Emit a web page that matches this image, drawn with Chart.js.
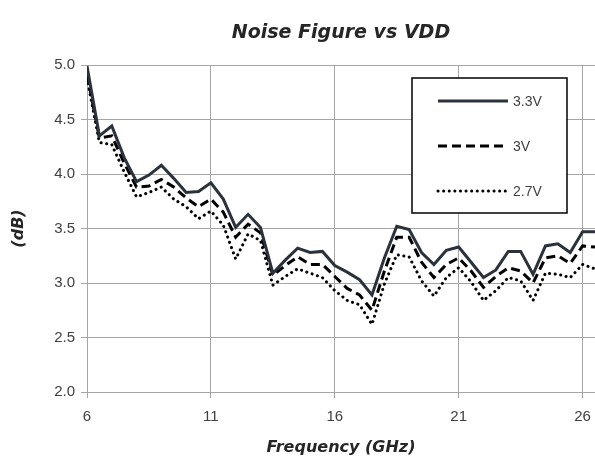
<!DOCTYPE html>
<html>
<head>
<meta charset="utf-8">
<script src="https://cdn.jsdelivr.net/npm/chart.js@4.4.0/dist/chart.umd.min.js"></script>
<style>
  html, body { margin: 0; padding: 0; background: #fff; }
  #nf-chart { display: block; }
</style>
</head>
<body>
<canvas id="nf-chart" width="595" height="468"></canvas>
<script>
const freqGHz = [6, 6.5, 7, 7.5, 8, 8.5, 9, 9.5, 10, 10.5,
  11, 11.5, 12, 12.5, 13, 13.5, 14, 14.5, 15, 15.5,
  16, 16.5, 17, 17.5, 18, 18.5, 19, 19.5, 20, 20.5,
  21, 21.5, 22, 22.5, 23, 23.5, 24, 24.5, 25, 25.5,
  26, 26.5];

const nf33 = [4.99, 4.35, 4.44, 4.15, 3.93, 3.99, 4.08, 3.96, 3.83, 3.84,
  3.92, 3.77, 3.51, 3.63, 3.51, 3.09, 3.21, 3.32, 3.28, 3.29,
  3.16, 3.10, 3.03, 2.89, 3.23, 3.52, 3.49, 3.28, 3.17, 3.30,
  3.33, 3.19, 3.05, 3.12, 3.29, 3.29, 3.08, 3.34, 3.36, 3.28,
  3.47, 3.47];

const nf30 = [4.92, 4.33, 4.35, 4.10, 3.88, 3.89, 3.95, 3.88, 3.78, 3.70,
  3.77, 3.65, 3.42, 3.54, 3.46, 3.07, 3.16, 3.24, 3.17, 3.17,
  3.06, 2.95, 2.89, 2.75, 3.11, 3.42, 3.42, 3.19, 3.05, 3.17,
  3.23, 3.11, 2.96, 3.06, 3.14, 3.11, 3.00, 3.23, 3.25, 3.18,
  3.34, 3.33];

const nf27 = [4.88, 4.29, 4.27, 4.02, 3.79, 3.83, 3.88, 3.77, 3.70, 3.59,
  3.66, 3.53, 3.22, 3.45, 3.39, 2.98, 3.06, 3.13, 3.09, 3.05,
  2.93, 2.84, 2.80, 2.62, 2.99, 3.26, 3.24, 3.02, 2.88, 3.05,
  3.14, 3.01, 2.84, 2.93, 3.05, 3.02, 2.84, 3.09, 3.08, 3.05,
  3.17, 3.13];

const xTicks = [6, 11, 16, 21, 26];
const seriesLabels = ['3.3V', '3V', '2.7V'];

const gridColor = '#a6a6a6';
const textColor = '#404040';

const toPoints = (ys) => freqGHz.map((f, i) => ({ x: f, y: ys[i] }));

// title drawn over the plot centre, like the original
const titlePlugin = {
  id: 'plotTitle',
  afterDraw(chart) {
    const { ctx, chartArea } = chart;
    ctx.save();
    ctx.font = 'italic bold 19px "DejaVu Sans"';
    ctx.fillStyle = '#262626';
    ctx.textAlign = 'center';
    ctx.textBaseline = 'middle';
    ctx.fillText('Noise Figure vs VDD', (chartArea.left + chartArea.right) / 2, 33);
    ctx.restore();
  }
};

// boxed legend inside the plot, top right
const boxLegend = {
  id: 'boxLegend',
  afterDraw(chart) {
    const ctx = chart.ctx;
    const bx = 412, by = 78, bw = 155, bh = 135;
    ctx.save();
    ctx.fillStyle = '#ffffff';
    ctx.fillRect(bx, by, bw, bh);
    ctx.strokeStyle = '#000000';
    ctx.lineWidth = 1.5;
    ctx.strokeRect(bx, by, bw, bh);
    const rows = [101, 146, 191];
    chart.data.datasets.forEach((ds, i) => {
      ctx.beginPath();
      ctx.strokeStyle = ds.borderColor;
      ctx.lineWidth = ds.borderWidth;
      ctx.lineCap = ds.borderCapStyle || 'butt';
      ctx.setLineDash(ds.borderDash || []);
      ctx.moveTo(438, rows[i]);
      ctx.lineTo(508, rows[i]);
      ctx.stroke();
      ctx.setLineDash([]);
      ctx.font = '14px "Liberation Sans"';
      ctx.fillStyle = textColor;
      ctx.textBaseline = 'middle';
      ctx.fillText(ds.label, 513, rows[i] + 1);
    });
    ctx.restore();
  }
};

const ctx = document.getElementById('nf-chart').getContext('2d');
const chart = new Chart(ctx, {
  type: 'line',
  data: {
    datasets: [
      {
        label: seriesLabels[0],
        data: toPoints(nf33),
        borderColor: '#2b323c',
        borderWidth: 3,
        pointRadius: 0,
        tension: 0,
      },
      {
        label: seriesLabels[1],
        data: toPoints(nf30),
        borderColor: '#000000',
        borderWidth: 3,
        borderDash: [9, 5],
        pointRadius: 0,
        tension: 0,
      },
      {
        label: seriesLabels[2],
        data: toPoints(nf27),
        borderColor: '#000000',
        borderWidth: 3,
        borderDash: [0.1, 5.5],
        borderCapStyle: 'round',
        pointRadius: 0,
        tension: 0,
      },
    ],
  },
  options: {
    responsive: false,
    animation: false,
    layout: { padding: { top: 65, left: 0, right: 0, bottom: 0 } },
    plugins: {
      legend: { display: false },
      tooltip: { enabled: false },
    },
    scales: {
      x: {
        type: 'linear',
        min: 6,
        max: 26.5,
        afterBuildTicks: (scale) => {
          scale.ticks = xTicks.map((v) => ({ value: v }));
        },
        afterFit: (scale) => {
          scale.height = 76;
          scale.paddingRight = 0;
        },
        grid: { color: gridColor, tickLength: 6 },
        border: { color: gridColor },
        ticks: {
          color: textColor,
          padding: 10,
          maxRotation: 0,
          font: { family: 'Liberation Sans', size: 15 },
        },
        title: {
          display: true,
          text: 'Frequency (GHz)',
          color: '#262626',
          padding: { top: 0, bottom: 11 },
          font: { family: 'DejaVu Sans', size: 16, style: 'italic', weight: 'bold' },
        },
      },
      y: {
        min: 2,
        max: 5,
        afterFit: (scale) => { scale.width = 87; },
        grid: { color: gridColor, tickLength: 6 },
        border: { color: gridColor },
        ticks: {
          stepSize: 0.5,
          color: textColor,
          padding: 6,
          callback: (v) => v.toFixed(1),
          font: { family: 'Liberation Sans', size: 15 },
        },
        title: {
          display: true,
          text: '(dB)',
          color: '#262626',
          padding: { top: 9, bottom: 0 },
          font: { family: 'DejaVu Sans', size: 16, style: 'italic', weight: 'bold' },
        },
      },
    },
  },
  plugins: [titlePlugin, boxLegend],
});
</script>
</body>
</html>
